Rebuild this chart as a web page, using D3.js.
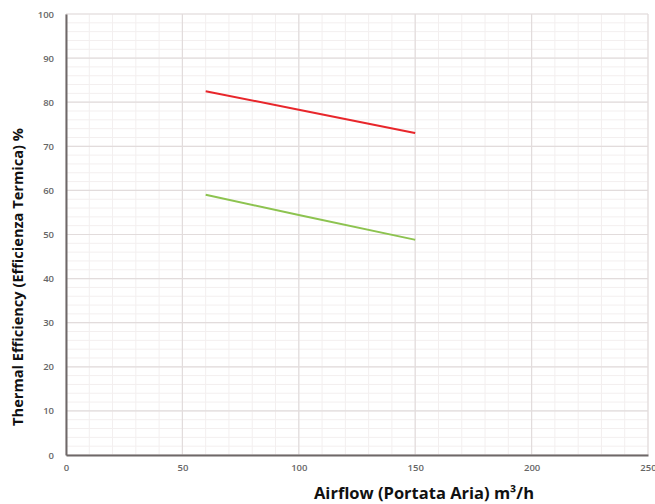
<!DOCTYPE html>
<html><head><meta charset="utf-8">
<script src="https://cdn.jsdelivr.net/npm/d3@7"></script>
<style>body{margin:0;background:#fff}svg{display:block}</style>
</head><body>
<svg id="c" width="655" height="504"></svg>
<script>
const airflow = [60, 100, 150];
const redSeries = [82.5, 78.3, 73.0];
const greenSeries = [59.0, 54.4, 48.8];
const xTicks = [0, 50, 100, 150, 200, 250];
const yTicks = [0, 10, 20, 30, 40, 50, 60, 70, 80, 90, 100];
const xLabel = "Airflow (Portata Aria) m³/h";
const yLabel = "Thermal Efficiency (Efficienza Termica) %";

const svg = d3.select("#c");
const x = d3.scaleLinear().domain([0, 250]).range([66, 648]);
const y = d3.scaleLinear().domain([0, 100]).range([455, 14]);

// minor grid
const g = svg.append("g");
g.selectAll(".mx").data(d3.range(0, 251, 10)).enter().append("line")
  .attr("x1", d => x(d)).attr("x2", d => x(d)).attr("y1", y(0)).attr("y2", y(100))
  .attr("stroke", "#f3efef").attr("stroke-width", 1);
g.selectAll(".my").data(d3.range(0, 101, 2)).enter().append("line")
  .attr("y1", d => y(d)).attr("y2", d => y(d)).attr("x1", x(0)).attr("x2", x(250))
  .attr("stroke", "#f3efef").attr("stroke-width", 1);
// major grid
g.selectAll(".Mx").data(xTicks).enter().append("line")
  .attr("x1", d => x(d)).attr("x2", d => x(d)).attr("y1", y(0)).attr("y2", y(100))
  .attr("stroke", "#e2dcdc").attr("stroke-width", 1.2);
g.selectAll(".My").data(yTicks).enter().append("line")
  .attr("y1", d => y(d)).attr("y2", d => y(d)).attr("x1", x(0)).attr("x2", x(250))
  .attr("stroke", "#e2dcdc").attr("stroke-width", 1.2);

// axes
const xAxis = d3.axisBottom(x).tickValues(xTicks).tickSize(0).tickPadding(9);
const yAxis = d3.axisLeft(y).tickValues(yTicks).tickSize(0).tickPadding(12);
const ax = svg.append("g").attr("transform", `translate(0,${y(0)})`).call(xAxis);
const ay = svg.append("g").attr("transform", `translate(${x(0)},0)`).call(yAxis);
[ax, ay].forEach(a => {
  a.select(".domain").attr("stroke", "#6e6868").attr("stroke-width", 2);
  a.selectAll("text").attr("font-family", "Open Sans, sans-serif").attr("font-size", 9.5)
    .attr("fill", "#666").attr("font-weight", 600);
});

// lines
const line = d3.line().x((d, i) => x(airflow[i])).y(d => y(d)).curve(d3.curveMonotoneX);
svg.append("path").datum(redSeries).attr("d", line).attr("fill", "none")
  .attr("stroke", "#e8262b").attr("stroke-width", 2);
svg.append("path").datum(greenSeries).attr("d", line).attr("fill", "none")
  .attr("stroke", "#8dc350").attr("stroke-width", 2);

// labels
svg.append("text").attr("x", 424).attr("y", 499).attr("text-anchor", "middle")
  .attr("font-family", "Open Sans, sans-serif").attr("font-weight", 700).attr("font-size", 16.5)
  .attr("fill", "#111").text(xLabel);
svg.append("text").attr("transform", "translate(23,277) rotate(-90)").attr("text-anchor", "middle")
  .attr("font-family", "Open Sans, sans-serif").attr("font-weight", 700).attr("font-size", 14.6)
  .attr("fill", "#111").text(yLabel);
</script>
</body></html>
